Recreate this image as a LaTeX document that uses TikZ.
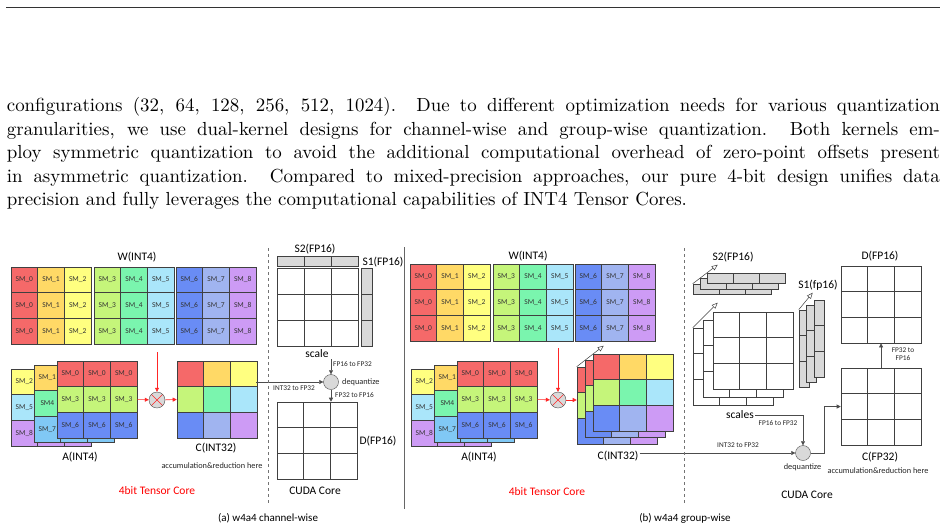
\documentclass[tikz,border=0pt]{standalone}
\usepackage{fontspec}
\newfontfamily\calibri{Carlito}
\newfontfamily\paperfont{lmroman10-regular.otf}
\usetikzlibrary{arrows.meta,positioning}

\definecolor{sm0}{RGB}{245,105,105}
\definecolor{sm1}{RGB}{255,217,102}
\definecolor{sm2}{RGB}{255,255,128}
\definecolor{sm3}{RGB}{197,245,122}
\definecolor{sm4}{RGB}{122,245,174}
\definecolor{sm5}{RGB}{170,230,250}
\definecolor{sm6}{RGB}{105,140,245}
\definecolor{sm7}{RGB}{160,180,240}
\definecolor{sm8}{RGB}{205,155,245}
\definecolor{smsky}{RGB}{128,200,245}
\definecolor{scalegray}{RGB}{217,217,217}

\tikzset{
  body/.style={font=\paperfont\fontsize{18.9}{23.5}\selectfont, inner sep=0pt, anchor=base west},
  cell/.style={draw=black!75, line width=0.6pt, inner sep=0pt,
    minimum width=26.7pt, minimum height=25.7pt,
    font=\calibri\fontsize{7.5}{8}\selectfont, text=black!80},
  blank/.style={cell, fill=white},
  bar/.style={draw=black!75, fill=scalegray, line width=0.6pt, inner sep=0pt},
  title/.style={font=\calibri\fontsize{11.5}{13}\selectfont, inner sep=1pt},
  note/.style={font=\calibri\fontsize{8.3}{10}\selectfont, inner sep=1pt, text=black!85},
  tiny/.style={font=\calibri\fontsize{7.3}{8.5}\selectfont, inner sep=1pt, text=black!85},
  flow/.style={draw=black!70, line width=0.6pt, -{Triangle[length=4pt,width=4pt]}},
  redflow/.style={draw=red!85, line width=0.6pt, -{Triangle[length=4pt,width=4pt]}},
  depth/.style={draw=black!75, line width=0.5pt, -{Triangle[open,length=6pt,width=5pt]}},
  mulop/.style={circle, draw=black!70, fill=black!15, minimum size=16pt, inner sep=0pt,
    path picture={\draw[red!85,line width=0.6pt]
      (path picture bounding box.north west) -- (path picture bounding box.south east)
      (path picture bounding box.north east) -- (path picture bounding box.south west);}},
  deqop/.style={circle, draw=black!70, fill=black!15, minimum size=15pt, inner sep=0pt,
    path picture={\fill (path picture bounding box.center) circle (1pt);}},
}

\begin{document}
\begin{tikzpicture}[x=1pt,y=-1pt]
\path[fill=white,use as bounding box] (0,0) rectangle (948,528);

% text of the page
\draw[black!80,line width=1.2pt] (6,7.3) -- (940,7.3);
\node[body] (par1) at (6.7,111.5) {\hbox to 933pt{configurations (32, 64, 128, 256, 512, 1024). Due to different optimization needs for various quantization}};
\node[body] (par2) at (6.7,135) {\hbox to 933pt{granularities, we use dual-kernel designs for channel-wise and group-wise quantization. Both kernels em-}};
\node[body] (par3) at (6.7,158.5) {\hbox to 933pt{ploy symmetric quantization to avoid the additional computational overhead of zero-point offsets present}};
\node[body] (par4) at (6.7,182) {\hbox to 933pt{in asymmetric quantization. Compared to mixed-precision approaches, our pure 4-bit design unifies data}};
\node[body] (par5) at (6.7,205.5) {precision and fully leverages the computational capabilities of INT4 Tensor Cores.};

% tensor core part, both panels
\foreach \p/\px/\py in {a/0/0,b/399/-3}
  \foreach \b/\bx in {0/11,1/94,2/176}
    \foreach \c in {0,1,2}
      \foreach \r in {0,1,2}{
        \pgfmathtruncatemacro\k{3*\b+\c}
        \node[cell,fill=sm\k] (w\p-\r-\k) at (\px+\bx+13.35+26.7*\c,\py+279.85+25.7*\r) {SM\_\k};
      }
\foreach \p/\px in {a/0,b/400}{
  \foreach \r/\col/\txt in {0/sm2/SM\_2,1/sm5/SM\_5,2/sm8/SM\_8}
    \foreach \c in {0,1,2}
      \node[cell,fill=\col] (ak\p-\r-\c) at (\px+24.35+26.7*\c,381.85+25.7*\r) {\ifnum\c=0 \txt\fi};
  \foreach \r/\col/\txt in {0/sm1/SM\_1,1/sm4/SM4,2/smsky/SM\_7}
    \foreach \c in {0,1,2}
      \node[cell,fill=\col] (am\p-\r-\c) at (\px+47.35+26.7*\c,377.85+25.7*\r) {\ifnum\c=0 \txt\fi};
  \foreach \r/\col/\txt in {0/sm0/SM\_0,1/sm3/SM\_3,2/sm6/SM\_6}
    \foreach \c in {0,1,2}
      \node[cell,fill=\col] (af\p-\r-\c) at (\px+70.35+26.7*\c,373.85+25.7*\r) {\txt};
}
\node[title] (wlbl-a) at (137,257) {W(INT4)};
\node[title] (wlbl-b) at (528,256) {W(INT4)};
\node[title] (albl-a) at (80,457) {A(INT4)};
\node[title] (albl-b) at (479,457) {A(INT4)};

% C(INT32) of (a)
\foreach \r in {0,1,2}
  \foreach \c in {0,1,2}{
    \pgfmathtruncatemacro\k{3*\r+\c}
    \node[cell,fill=sm\k] (ca-\r-\c) at (190.35+26.7*\c,373.85+25.7*\r) {};
  }
% C(INT32) of (b), three layers
\foreach \l/\lx/\ly in {k/590.35/379.85,m/598.35/372.85,f/606.35/366.85}
  \foreach \r in {0,1,2}
    \foreach \c in {0,1,2}{
      \pgfmathtruncatemacro\k{3*\r+\c}
      \node[cell,fill=sm\k] (cb\l-\r-\c) at (\lx+26.7*\c,\ly+25.7*\r) {};
    }
\draw[depth] (cbk-0-0.north west) -- ++(27,-21);

\node[mulop] (mul-a) at (157,400) {};
\node[mulop] (mul-b) at (558,400) {};
\coordinate (wout-a) at (157,352);
\coordinate (wout-b) at (558,348);
\draw[redflow] (wout-a) -- (mul-a);
\draw[redflow] (afa-1-2.east) -- (mul-a);
\draw[redflow] (mul-a) -- (ca-1-0.west);
\draw[redflow] (wout-b) -- (mul-b);
\draw[redflow] (afb-1-2.east) -- (mul-b);
\draw[redflow] (mul-b) -- (mul-b -| cbk-1-0.west);

\node[title] (cint-a) at (216,448) {C(INT32)};
\node[note] (acc-a) at (212,466) {accumulation\&reduction here};
\node[title] (cint-b) at (618,456) {C(INT32)};
\node[title,text=red] (tc-a) at (157,491) {4bit Tensor Core};
\node[title,text=red] (tc-b) at (547,492) {4bit Tensor Core};

% CUDA core of (a)
\foreach \c in {0,1,2}{
  \node[bar,minimum width=27pt,minimum height=10pt] (s2a-\c) at (290.5+27*\c,261) {};
  \node[bar,minimum width=11pt,minimum height=26pt] (s1a-\c) at (366.5,281+26*\c) {};
  \foreach \r in {0,1,2}{
    \node[blank,minimum width=27pt,minimum height=26pt] (sga-\r-\c) at (290.5+27*\c,281+26*\r) {};
    \node[blank] (da-\r-\c) at (290.35+26.7*\c,414.85+25.7*\r) {};
  }
}
\node[title] (s2lbl-a) at (315,249) {S2(FP16)};
\node[title] (s1lbl-a) at (383,262) {S1(FP16)};
\node[title] (scl-a) at (317,354) {scale};
\node[deqop] (deq-a) at (331,382) {};
\node[note,anchor=west] (dqlbl-a) at (341,382) {dequantize};
\coordinate (sout-a) at (331,359);
\coordinate (cout-a) at (256,382);
\draw[flow] (sout-a) -- (deq-a);
\draw[flow] (cout-a) -- (deq-a);
\draw[flow] (deq-a) -- (deq-a |- da-0-1.north);
\node[tiny,anchor=west] at (332,364) {FP16 to FP32};
\node[tiny] at (294,388) {INT32 to FP32};
\node[tiny,anchor=west] at (334,395) {FP32 to FP16};
\node[title] (dlbl-a) at (378,441) {D(FP16)};
\node[title] (cuda-a) at (315,491) {CUDA Core};

% CUDA core of (b)
\foreach \l/\lx/\ly in {k/693/284,m/700/278.5,f/707/273}
  \foreach \c in {0,1,2}
    \node[bar,minimum width=26pt,minimum height=10.5pt] (s2b\l-\c) at (\lx+13+26*\c,\ly+5.25) {};
\draw[depth] (s2bk-0.north west) -- ++(25,-19);
\foreach \l/\lx/\ly in {k/693/328,m/703/320,f/713/312}
  \foreach \r in {0,1,2}
    \foreach \c in {0,1,2}
      \node[blank] (sgb\l-\r-\c) at (\lx+13.35+26.7*\c,\ly+12.85+25.7*\r) {};
\draw[depth] (sgbk-0-0.north west) -- ++(25,-25);
\foreach \l/\lx/\ly in {k/799/310,m/806.5/305,f/814/300}
  \foreach \r in {0,1,2}
    \node[bar,minimum width=10pt,minimum height=25.7pt] (s1b\l-\r) at (\lx+5,\ly+12.85+25.7*\r) {};
\draw[depth] (s1bk-0.north west) -- ++(14,-17);
\foreach \r in {0,1,2}
  \foreach \c in {0,1,2}{
    \node[blank] (db-\r-\c) at (854.35+26.7*\c,278.85+25.7*\r) {};
    \node[blank] (cf-\r-\c) at (854.35+26.7*\c,380.85+25.7*\r) {};
  }
\node[title] (s2lbl-b) at (733,257) {S2(FP16)};
\node[title] (s1lbl-b) at (818,285) {S1(fp16)};
\node[title] (scl-b) at (740,415) {scales};
\node[title] (dlbl-b) at (880,256) {D(FP16)};
\node[title] (cflbl-b) at (880,457) {C(FP32)};
\node[note] (acc-b) at (878,471) {accumulation\&reduction here};
\node[deqop] (deq-b) at (803,453) {};
\node[note] (dqlbl-b) at (802.5,467) {dequantize};
\draw[flow] (scl-b.east) -| (deq-b);
\draw[flow] (cint-b.east |- deq-b) -- (deq-b);
\draw[flow] (deq-b.east) -- ++(14,0) |- (cf-1-0.west);
\draw[flow] (cf-0-1.north) -- (db-2-1.south);
\node[tiny] at (778,423) {FP16 to FP32};
\node[tiny] at (738,445) {INT32 to FP32};
\node[tiny,align=center] at (903,354) {FP32 to\\FP16};
\node[title] (cuda-b) at (807,495) {CUDA Core};

% dividers and captions
\draw[black!55,dashed,line width=0.6pt] (268,248) -- (268,503);
\draw[black!55,dashed,line width=0.6pt] (684,248) -- (684,505);
\draw[black!60,line width=0.8pt] (404,247) -- (404,509);
\node[title,font=\calibri\fontsize{11}{13}\selectfont] (cap-a) at (268,518) {(a) w4a4 channel-wise};
\node[title,font=\calibri\fontsize{11}{13}\selectfont] (cap-b) at (685,518) {(b) w4a4 group-wise};
\end{tikzpicture}
\end{document}
